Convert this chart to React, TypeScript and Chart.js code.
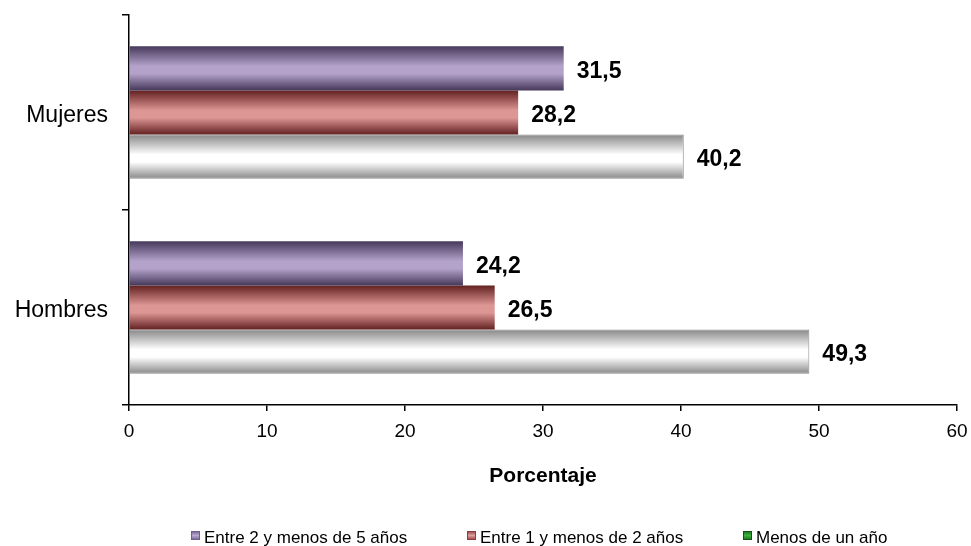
import { useEffect, useRef } from 'react';
import { Chart, registerables } from 'chart.js';

Chart.register(...registerables);

// ---- data ----
const categories = ['Mujeres', 'Hombres'];
const seriesNames = ['Entre 2 y menos de 5 años', 'Entre 1 y menos de 2 años', 'Menos de un año'];
const entre2y5 = [31.5, 24.2];
const entre1y2 = [28.2, 26.5];
const menosUnAno = [40.2, 49.3];
const axisTitle = 'Porcentaje';
const xMin = 0;
const xMax = 60;
const xStep = 10;

// ---- styles ----
const FONT = '"Liberation Sans", Arial, Helvetica, sans-serif';
const barStyles = [
  { dark: '#45385a', light: '#b4a2ca' },
  { dark: '#622020', light: '#dc9694' },
  { dark: '#878787', light: '#ffffff' },
];
const legendStyles = [
  { dark: '#6f5f8c', light: '#b9a8cf', border: '#6f5f8c' },
  { dark: '#8f3b3b', light: '#e0a09e', border: '#8f3b3b' },
  { dark: '#1b6a1b', light: '#3cb43c', border: '#145214' },
];
const LEGEND_START = 191;
const LEGEND_COL = 276;
const LEGEND_BOX_TOP = 531;
const LEGEND_BASELINE = 543;

const gradientBars = {
  id: 'gradientBars',
  beforeDatasetDraw(chart: any, args: any) {
    const { ctx } = chart;
    const st = barStyles[args.index];
    args.meta.data.forEach((el: any) => {
      const top = el.y - el.height / 2;
      const bottom = el.y + el.height / 2;
      const g = ctx.createLinearGradient(0, top, 0, bottom);
      g.addColorStop(0, st.dark);
      g.addColorStop(0.45, st.light);
      g.addColorStop(0.62, st.light);
      g.addColorStop(1, st.dark);
      el.options = { ...el.options, backgroundColor: g };
    });
  },
};

const valueLabels = {
  id: 'valueLabels',
  afterDatasetsDraw(chart: any) {
    const { ctx } = chart;
    ctx.save();
    ctx.font = `bold 23px ${FONT}`;
    ctx.fillStyle = '#000';
    ctx.textAlign = 'left';
    ctx.textBaseline = 'middle';
    chart.data.datasets.forEach((ds: any, i: number) => {
      const meta = chart.getDatasetMeta(i);
      meta.data.forEach((el: any, j: number) => {
        const v = ds.data[j] as number;
        ctx.fillText(v.toFixed(1).replace('.', ','), el.x + 13, el.y + 3);
      });
    });
    ctx.restore();
  },
};

const customLegend = {
  id: 'customLegend',
  afterDraw(chart: any) {
    const { ctx } = chart;
    ctx.save();
    ctx.font = `17px ${FONT}`;
    ctx.textAlign = 'left';
    ctx.textBaseline = 'alphabetic';
    seriesNames.forEach((name, i) => {
      const x = LEGEND_START + i * LEGEND_COL;
      const st = legendStyles[i];
      const g = ctx.createLinearGradient(0, LEGEND_BOX_TOP, 0, LEGEND_BOX_TOP + 9);
      g.addColorStop(0, st.dark);
      g.addColorStop(0.5, st.light);
      g.addColorStop(1, st.dark);
      ctx.fillStyle = g;
      ctx.fillRect(x, LEGEND_BOX_TOP, 9, 9);
      ctx.strokeStyle = st.border;
      ctx.lineWidth = 1;
      ctx.strokeRect(x + 0.5, LEGEND_BOX_TOP + 0.5, 8, 8);
      ctx.fillStyle = '#000';
      ctx.fillText(name, x + 13, LEGEND_BASELINE);
    });
    ctx.restore();
  },
};

export default function App() {
  const ref = useRef<HTMLCanvasElement>(null);

  useEffect(() => {
    document.body.style.margin = '0';
    const chart = new Chart(ref.current as HTMLCanvasElement, {
      type: 'bar',
      data: {
        labels: categories,
        datasets: [
          {
            label: seriesNames[0],
            data: entre2y5,
            backgroundColor: barStyles[0].light,
            borderWidth: 0,
          },
          {
            label: seriesNames[1],
            data: entre1y2,
            backgroundColor: barStyles[1].light,
            borderWidth: 0,
          },
          {
            label: seriesNames[2],
            data: menosUnAno,
            backgroundColor: barStyles[2].light,
            borderColor: '#8a8a8a',
            borderWidth: 1,
          },
        ],
      },
      options: {
        indexAxis: 'y',
        animation: false,
        responsive: true,
        maintainAspectRatio: false,
        events: [],
        datasets: {
          bar: { categoryPercentage: 0.68, barPercentage: 1 },
        },
        layout: { padding: { top: 15, right: 14, bottom: 57, left: 0 } },
        plugins: {
          legend: { display: false },
          tooltip: { enabled: false },
        },
        scales: {
          x: {
            type: 'linear',
            min: xMin,
            max: xMax,
            ticks: {
              stepSize: xStep,
              color: '#000',
              font: { family: FONT, size: 19 },
              padding: 9,
              maxRotation: 0,
            },
            grid: {
              drawOnChartArea: false,
              drawTicks: true,
              tickLength: 6,
              color: '#000',
              lineWidth: 1.5,
            },
            border: { color: '#000', width: 1.5 },
            title: {
              display: true,
              text: axisTitle,
              color: '#000',
              font: { family: FONT, size: 21, weight: 'bold' },
              padding: { top: 0, bottom: 0 },
            },
            afterFit: (scale: any) => {
              scale.height = 84;
              scale.paddingLeft = 0;
              scale.paddingRight = 0;
            },
          },
          y: {
            type: 'category',
            offset: true,
            ticks: {
              color: '#000',
              font: { family: FONT, size: 23 },
              padding: 14,
              labelOffset: 3,
            },
            grid: {
              offset: true,
              drawOnChartArea: false,
              drawTicks: true,
              tickLength: 7,
              color: '#000',
              lineWidth: 1.5,
            },
            border: { color: '#000', width: 1.5 },
            afterFit: (scale: any) => {
              scale.width = 129;
              scale.paddingTop = 0;
              scale.paddingBottom = 0;
            },
          },
        },
      } as any,
      plugins: [gradientBars, valueLabels, customLegend],
    });
    return () => {
      chart.destroy();
    };
  }, []);

  return (
    <div
      style={{
        position: 'absolute',
        left: 0,
        top: 0,
        width: 971,
        height: 546,
        background: '#fff',
      }}
    >
      <canvas ref={ref} />
    </div>
  );
}
